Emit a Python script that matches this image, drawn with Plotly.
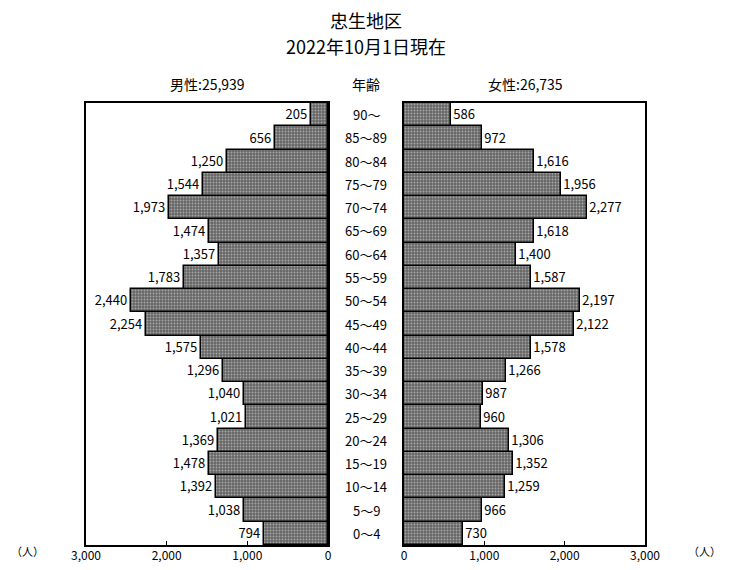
import plotly.graph_objects as go

ages = ["0～4", "5～9", "10～14", "15～19", "20～24", "25～29", "30～34", "35～39",
        "40～44", "45～49", "50～54", "55～59", "60～64", "65～69", "70～74", "75～79",
        "80～84", "85～89", "90～"]
male = [794, 1038, 1392, 1478, 1369, 1021, 1040, 1296, 1575, 2254, 2440, 1783,
        1357, 1474, 1973, 1544, 1250, 656, 205]
female = [730, 966, 1259, 1352, 1306, 960, 987, 1266, 1578, 2122, 2197, 1587,
          1400, 1618, 2277, 1956, 1616, 972, 586]
tick_vals = [0, 1000, 2000, 3000]
tick_text = ["0", "1,000", "2,000", "3,000"]
title_lines = ["忠生地区", "2022年10月1日現在"]
male_label = "男性:25,939"
female_label = "女性:26,735"
age_label = "年齢"
unit = "（人）"

FONT = "Noto Sans CJK JP"
W, H, OFF = 716, 554, 8  # page body has an 8px margin
ML, MR, MT, MB = 40, 40, 70, 6
PW, PH = W - ML - MR, H - MT - MB


def dx(x):  # domain fraction of the plot area
    return (x - OFF - ML) / PW


def dy(y):
    return 1 - (y - OFF - MT) / PH


pattern = dict(shape=".", fgcolor="#e6e6e6", bgcolor="#666666", size=3, solidity=0.3)

fig = go.Figure()
for xs, xa, ya in ((male, "x", "y"), (female, "x2", "y2")):
    fig.add_trace(go.Bar(
        y=ages, x=xs, orientation="h", xaxis=xa, yaxis=ya,
        marker=dict(color="#666666", pattern=pattern, line=dict(color="black", width=1.5)),
        texttemplate="%{x:,}", textposition="outside",
        textfont=dict(size=13, color="black", family=FONT), cliponaxis=False,
        showlegend=False))

ydom = [dy(545), dy(103)]
axis_common = dict(showline=True, linecolor="black", linewidth=1.5, mirror=True,
                   showgrid=False, zeroline=False, ticks="inside", ticklen=4,
                   tickcolor="black", tickvals=tick_vals, ticktext=tick_text,
                   ticklabelstandoff=-1,
                   tickfont=dict(size=12, family=FONT, color="black"))
yaxis_common = dict(showline=True, linecolor="black", linewidth=1.5, mirror=True,
                    showticklabels=False, ticks="", showgrid=False)
fig.update_layout(
    width=W, height=H,
    margin=dict(l=ML, r=MR, t=MT, b=MB, autoexpand=False),
    paper_bgcolor="white", plot_bgcolor="white",
    bargap=0,
    font=dict(family=FONT, color="black"),
    xaxis=dict(domain=[dx(86), dx(328)], range=[3000, 0], anchor="y", **axis_common),
    xaxis2=dict(domain=[dx(404), dx(645)], range=[0, 3000], anchor="y2", **axis_common),
    yaxis=dict(domain=ydom, anchor="x", **yaxis_common),
    yaxis2=dict(domain=ydom, anchor="x2", **yaxis_common),
)

ann = []
for a in ages:
    ann.append(dict(x=dx(366), xref="paper", y=a, yref="y", text=a, showarrow=False,
                    font=dict(size=13, family=FONT), xanchor="center"))


def txt(x, y, t, s, xanchor="center"):
    ann.append(dict(x=dx(x), y=dy(y), xref="paper", yref="paper", text=t,
                    showarrow=False, font=dict(size=s, family=FONT), yanchor="middle",
                    xanchor=xanchor))


txt(366, 20, title_lines[0], 18)
txt(366, 46, title_lines[1], 18)
txt(207, 84, male_label, 14)
txt(366, 84, age_label, 14)
txt(525, 84, female_label, 14)
txt(8.5, 551, unit, 11, "left")
txt(723, 551, unit, 11, "right")
fig.update_layout(annotations=ann)

fig.write_html("out.html")
